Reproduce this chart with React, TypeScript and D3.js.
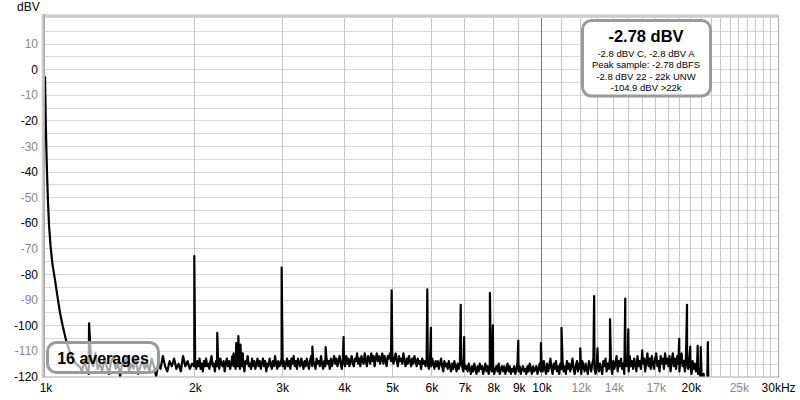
import React from "react";
import * as d3 from "d3";

// ---- Data ----
// Fundamental skirt (1 kHz tone)
const skirtFreqs = [1000, 1001, 1003, 1006, 1010, 1014, 1019, 1026, 1035, 1047, 1060, 1072, 1085, 1100, 1120, 1145, 1168];
const skirtLevels = [-2.8, -8, -18, -30, -42, -52, -61, -69, -76, -82, -89, -95, -100, -105, -110, -114, -116];

// Noise floor segments (levels spread evenly in log-frequency over each range)
const floorARange = [1175, 2000];
const floorA = [
  -116, -118, -114, -117, -119, -113, -116, -111, -117, -115,
  -118, -113, -116, -119, -114, -112, -117, -115, -120, -114,
  -116, -112, -118, -115, -117, -113, -119, -116, -114, -117,
  -115, -118, -113, -116, -120, -115, -117, -112, -116, -118,
  -114, -116, -113, -117, -115, -118, -112, -116, -114, -117,
  -115, -116,
];
const floorBRange = [2008, 4985];
const floorB = [
  -115, -117, -114, -116, -113, -117, -115, -118, -114, -116,
  -113, -116, -115, -117, -114, -112, -116, -115, -118, -114,
  -116, -114, -117, -113, -115, -116, -114, -118, -115, -113,
  -116, -114, -117, -115, -112, -116, -114, -117, -115, -116,
  -113, -117, -114, -116, -115, -118, -114, -115, -112, -116,
  -115, -117, -113, -116, -114, -117, -115, -113, -116, -114,
  -117, -115, -113, -116, -114, -118, -115, -116, -113, -115,
  -117, -114, -116, -112, -115, -117, -114, -116, -115, -113,
  -116, -114, -117, -115, -113, -116, -114, -117, -113, -115,
  -112, -116, -114, -117, -113, -115, -116, -113, -115, -117,
  -114, -116, -113, -115, -117, -114, -112, -116, -114, -115,
  -117, -113, -115, -114, -116, -112, -115, -117, -114, -116,
  -113, -115, -114, -117, -113, -116, -114, -112, -115, -113,
  -116, -114, -112, -115, -117, -113, -114, -116, -112, -115,
  -113, -116, -114, -112, -115, -116, -113, -114, -111, -115,
  -113, -116, -112, -114, -115, -111, -114, -116, -112, -113,
  -115, -111, -114, -112, -116, -113, -111, -114, -112, -115,
  -113, -111, -115, -112, -114, -116, -112, -113, -111, -114,
];
const floorCRange = [5015, 9990];
const floorC = [
  -112, -115, -113, -111, -114, -116, -112, -114, -113, -115,
  -111, -114, -116, -113, -115, -112, -114, -116, -113, -115,
  -112, -114, -116, -113, -115, -114, -117, -113, -115, -114,
  -116, -113, -115, -117, -114, -116, -113, -115, -117, -114,
  -116, -114, -117, -115, -113, -116, -118, -114, -116, -115,
  -117, -114, -116, -118, -115, -117, -114, -116, -118, -115,
  -117, -115, -113, -116, -118, -115, -117, -116, -118, -115,
  -117, -119, -116, -118, -115, -117, -119, -116, -118, -115,
  -117, -116, -119, -117, -115, -118, -116, -119, -117, -115,
  -118, -116, -119, -117, -116, -118, -115, -119, -117, -116,
  -118, -116, -119, -117, -115, -118, -116, -119, -117, -118,
  -116, -119, -117, -115, -118, -116, -119, -117, -116, -118,
  -117, -119, -116, -118, -115, -117, -119, -116, -118, -117,
  -116, -119, -117, -115, -118,
];
const floorDRange = [10030, 21500];
const floorD = [
  -116, -118, -114, -117, -119, -115, -118, -116, -113, -117,
  -119, -115, -117, -114, -118, -116, -119, -115, -117, -114,
  -118, -116, -119, -114, -117, -115, -118, -116, -113, -117,
  -119, -116, -114, -118, -115, -117, -119, -114, -116, -118,
  -115, -117, -119, -114, -116, -118, -115, -113, -117, -119,
  -116, -114, -118, -115, -117, -119, -114, -116, -113, -118,
  -115, -117, -113, -116, -119, -114, -117, -115, -112, -118,
  -114, -116, -113, -117, -115, -119, -113, -116, -114, -118,
  -112, -116, -114, -117, -113, -115, -118, -112, -116, -114,
  -117, -112, -115, -113, -118, -114, -111, -116, -113, -117,
  -112, -115, -117, -113, -111, -116, -114, -118, -112, -115,
  -113, -117, -111, -115, -113, -116, -112, -118, -114, -111,
  -116, -113, -117, -112, -115, -118, -113, -111, -116, -114,
  -118, -112, -115, -117, -113, -116, -119, -114, -117, -115,
  -118, -116, -119, -117, -120, -118, -121, -119, -123, -124,
];

// Harmonic / spurious peaks
const peakFreqs = [
  1227, 2000, 2225, 2400, 2430, 2454, 2478, 2505, 3000, 3460, 3680, 4000,
  5000, 5900, 6000, 6890, 7000, 7890, 8000, 9000, 10000, 11000, 12000,
  12800, 13000, 13780, 14790, 15000, 16000, 19000, 19700, 20000, 20700,
  21000, 21700,
];
const peakLevels = [
  -99.2, -73, -103, -111, -107, -104.2, -107.5, -111, -77.5, -108.3, -108.5, -104.6,
  -86.4, -86, -101, -92, -104.6, -87.3, -100, -106, -107, -101, -109,
  -88.6, -109, -97.7, -89.6, -101.6, -109.8, -105.3, -92, -108.3, -108,
  -108.5, -106.6,
];

// Tail above 21.6 kHz (below the axis floor)
const tailFreqs = [21640, 21760, 22500, 30000];
const tailLevels = [-123, -123, -121, -123];

// Axis ticks
const yTickValues = [10, 0, -10, -20, -30, -40, -50, -60, -70, -80, -90, -100, -110, -120];
const xTickFreqs = [1000, 2000, 3000, 4000, 5000, 6000, 7000, 8000, 9000, 10000, 12000, 14000, 17000, 20000, 25000, 30000];
const xTickLabels = ["1k", "2k", "3k", "4k", "5k", "6k", "7k", "8k", "9k", "10k", "12k", "14k", "17k", "20k", "25k", "30kHz"];
const xTickGray = ["12k", "14k", "17k", "25k"];

// Info texts
const infoTitle = "-2.78 dBV";
const infoLines = [
  "-2.8 dBV C, -2.8 dBV A",
  "Peak sample: -2.78 dBFS",
  "-2.8 dBV 22 - 22k UNW",
  "-104.9 dBV >22k",
];
const averagesLabel = "16 averages";
const yUnit = "dBV";

const FONT = "'Liberation Sans', Arial, Helvetica, sans-serif";

type Pt = { f: number; v: number };

function spread(range: number[], levels: number[]): Pt[] {
  const [a, b] = range;
  const n = levels.length;
  return levels.map((v, i) => ({ f: a * Math.pow(b / a, i / (n - 1)), v }));
}

export default function App() {
  const left = 45;
  const right = 777.6;
  const top = 18;
  const bottom = 376.5;

  const x = d3.scaleLog().domain([1000, 30000]).range([left, right]);
  const y = d3.scaleLinear().domain([-120, 20]).range([bottom, top]);

  const pts: Pt[] = [
    ...skirtFreqs.map((f, i) => ({ f, v: skirtLevels[i] })),
    ...spread(floorARange, floorA),
    ...spread(floorBRange, floorB),
    ...spread(floorCRange, floorC),
    ...spread(floorDRange, floorD),
    ...peakFreqs.map((f, i) => ({ f, v: peakLevels[i] })),
    ...tailFreqs.map((f, i) => ({ f, v: tailLevels[i] })),
  ].sort((a, b) => a.f - b.f);

  const line = d3
    .line<Pt>()
    .x((d) => x(d.f))
    .y((d) => y(d.v));

  const hGrid = d3.range(-115, 20, 5);
  const vGrid = d3.range(2000, 30001, 1000);

  return (
    <svg
      width={800}
      height={400}
      style={{ position: "absolute", left: 0, top: 0, background: "#fff" }}
      fontFamily={FONT}
    >
      <defs>
        <clipPath id="plotClip">
          <rect x={left} y={top} width={right - left} height={bottom - top} />
        </clipPath>
        <linearGradient id="topBand" x1="0" y1="0" x2="0" y2="1">
          <stop offset="0" stopColor="#e6e6e6" />
          <stop offset="0.5" stopColor="#c4c4c4" />
          <stop offset="1" stopColor="#dadada" />
        </linearGradient>
        <linearGradient id="leftBand" x1="0" y1="0" x2="1" y2="0">
          <stop offset="0" stopColor="#e0e0e0" />
          <stop offset="0.6" stopColor="#bdbdbd" />
          <stop offset="1" stopColor="#9a9a9a" />
        </linearGradient>
      </defs>

      <rect x={0} y={0} width={800} height={400} fill="#fff" />

      {/* grid */}
      {hGrid.map((v) => (
        <line
          key={"h" + v}
          x1={left}
          x2={right}
          y1={Math.round(y(v)) + 0.5}
          y2={Math.round(y(v)) + 0.5}
          stroke="#d6d6d6"
          strokeWidth={1}
        />
      ))}
      {vGrid.map((f) => (
        <line
          key={"v" + f}
          x1={Math.round(x(f)) + 0.5}
          x2={Math.round(x(f)) + 0.5}
          y1={top}
          y2={bottom}
          stroke={f === 10000 ? "#7a7a7a" : "#c6c6c6"}
          strokeWidth={1}
        />
      ))}

      {/* frame */}
      <line x1={right + 1} x2={right + 1} y1={top} y2={bottom + 1} stroke="#a8a8a8" />
      <line x1={left - 3} x2={right + 1.5} y1={bottom + 0.5} y2={bottom + 0.5} stroke="#a8a8a8" />
      <rect x={left - 3.5} y={top - 4} width={right - left + 5} height={4} fill="url(#topBand)" />
      <rect x={left - 3.5} y={top - 4} width={3.5} height={bottom - top + 5} fill="url(#leftBand)" />

      {/* trace */}
      <path
        d={line(pts) || ""}
        fill="none"
        stroke="#000"
        strokeWidth={2.2}
        strokeLinejoin="round"
        clipPath="url(#plotClip)"
      />

      {/* y axis labels */}
      <text x={17} y={11} fontSize={12} fill="#000">
        {yUnit}
      </text>
      {yTickValues.map((v) => (
        <text
          key={"yt" + v}
          x={38}
          y={y(v) + 4.5}
          fontSize={12}
          textAnchor="end"
          fill={v % 20 === 0 ? "#000" : "#888"}
        >
          {v}
        </text>
      ))}

      {/* x axis labels */}
      {xTickFreqs.map((f, i) => (
        <text
          key={"xt" + f}
          x={x(f) + 1}
          y={392}
          fontSize={12}
          textAnchor="middle"
          fill={xTickGray.includes(xTickLabels[i]) ? "#888" : "#000"}
        >
          {xTickLabels[i]}
        </text>
      ))}

      {/* info box */}
      <rect
        x={582.5}
        y={20.5}
        width={128}
        height={75.5}
        rx={9}
        ry={9}
        fill="#fff"
        stroke="#9a9a9a"
        strokeWidth={3}
      />
      <text x={646} y={42} fontSize={16.5} fontWeight="bold" textAnchor="middle" fill="#000">
        {infoTitle}
      </text>
      {infoLines.map((t, i) => (
        <text
          key={"il" + i}
          x={646}
          y={56.5 + i * 11.6}
          fontSize={9.5}
          textAnchor="middle"
          fill="#000"
        >
          {t}
        </text>
      ))}

      {/* averages box */}
      <rect
        x={47.5}
        y={342.5}
        width={111}
        height={30}
        rx={9}
        ry={9}
        fill="#fff"
        fillOpacity={0.65}
        stroke="#9a9a9a"
        strokeWidth={3}
      />
      <text x={103} y={364} fontSize={16} fontWeight="bold" textAnchor="middle" fill="#000">
        {averagesLabel}
      </text>
    </svg>
  );
}
